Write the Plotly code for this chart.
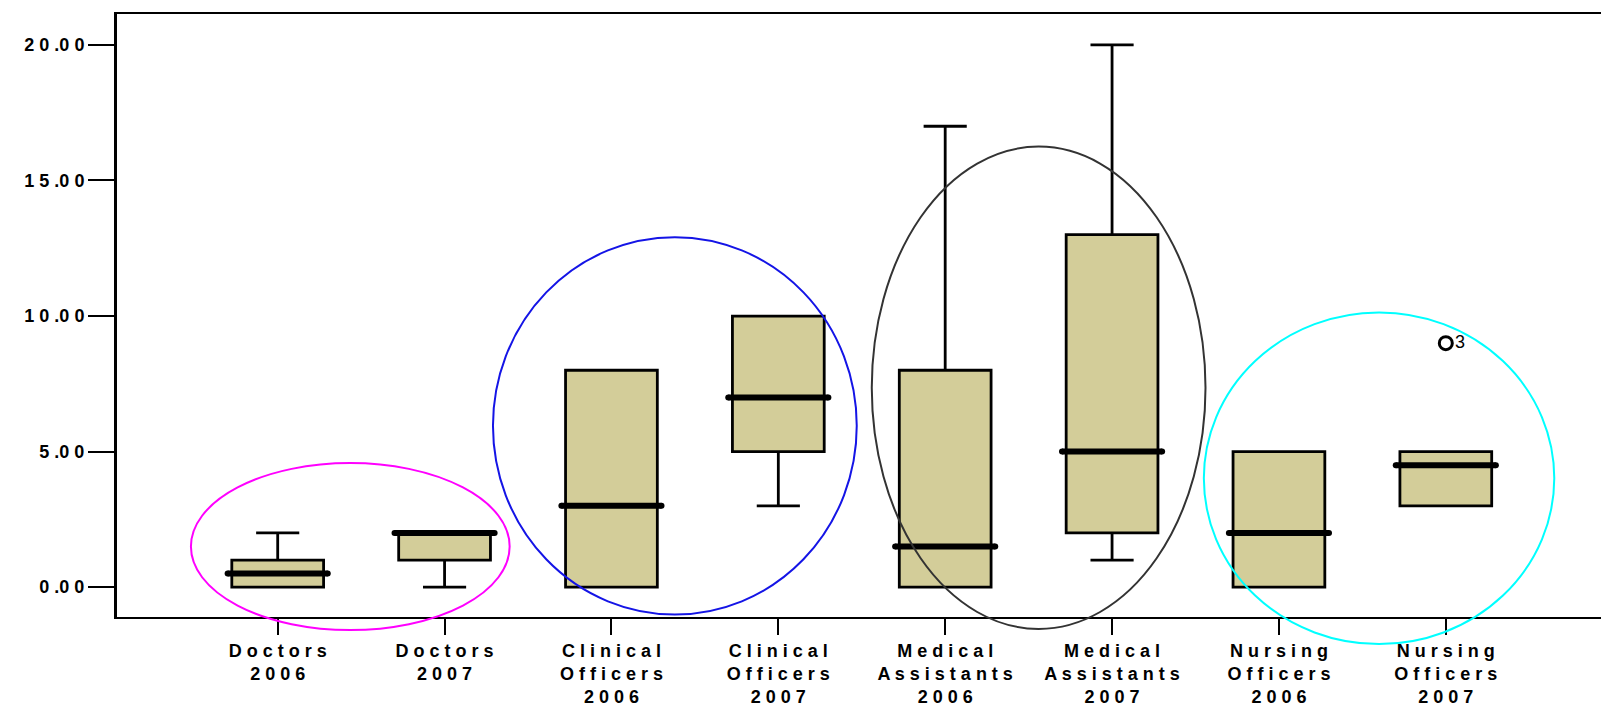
import plotly.graph_objects as go

# Staff group categories (one box per group and year)
categories = [
    "Doctors<br>2006", "Doctors<br>2007",
    "Clinical<br>Officers<br>2006", "Clinical<br>Officers<br>2007",
    "Medical<br>Assistants<br>2006", "Medical<br>Assistants<br>2007",
    "Nursing<br>Officers<br>2006", "Nursing<br>Officers<br>2007",
]

# Five-number summaries per group
lower_whisker = [0, 0, 0, 3, 0, 1, 0, 3]
q1_values     = [0, 1, 0, 5, 0, 2, 0, 3]
median_values = [0.5, 2, 3, 7, 1.5, 5, 2, 4.5]
q3_values     = [1, 2, 8, 10, 8, 13, 5, 5]
upper_whisker = [2, 2, 8, 10, 17, 20, 5, 5]

# Outlier (group index, value, case label)
outlier_group = [7]
outlier_value = [9]
outlier_label = ["3"]

# Y-axis ticks
y_ticks = [0, 5, 10, 15, 20]
y_tick_labels = ["0.00", "5.00", "10.00", "15.00", "20.00"]

# Highlight ellipses around pairs of groups: (x0, x1, y0, y1, colour)
ellipses = [
    (-0.52, 1.39, -1.58, 4.58, "#ff00ff"),
    (1.29, 3.47, -1.01, 12.91, "#1414e6"),
    (3.56, 5.56, -1.54, 16.25, "#333333"),
    (5.55, 7.65, -2.10, 10.13, "#00ffff"),
]

X_RANGE = [-0.963, 7.93]
Y_RANGE = [-1.10, 21.14]


def spaced(text):
    """Letter-space a label, keeping <br> line breaks."""
    return "<br>".join(" ".join(list(part)) for part in text.split("<br>"))


def spaced_number(text):
    """Letter-space a number, keeping the decimals tight to the point."""
    out = ""
    for i, ch in enumerate(text):
        out += ch
        if i < len(text) - 1 and ch != ".":
            out += " "
    return out


def to_paper_x(v):
    return (v - X_RANGE[0]) / (X_RANGE[1] - X_RANGE[0])


def to_paper_y(v):
    return (v - Y_RANGE[0]) / (Y_RANGE[1] - Y_RANGE[0])


positions = list(range(len(categories)))
BOX_WIDTH = 0.55
FILL = "#d3cd99"

fig = go.Figure()

fig.add_trace(go.Box(
    x=positions,
    q1=q1_values,
    median=median_values,
    q3=q3_values,
    lowerfence=lower_whisker,
    upperfence=upper_whisker,
    width=BOX_WIDTH,
    whiskerwidth=0.47,
    fillcolor=FILL,
    line=dict(color="black", width=2.8),
    boxpoints=False,
    showlegend=False,
    hoverinfo="skip",
))

# Heavy median bars with rounded ends drawn over each box
for pos, med in zip(positions, median_values):
    half = BOX_WIDTH / 2 + 0.025
    fig.add_trace(go.Scatter(
        x=[pos - half, pos + half],
        y=[med, med],
        mode="lines+markers",
        line=dict(color="black", width=6),
        marker=dict(symbol="circle", size=6, color="black"),
        showlegend=False,
        hoverinfo="skip",
    ))

# Outlier with its case number
fig.add_trace(go.Scatter(
    x=outlier_group,
    y=outlier_value,
    mode="markers+text",
    marker=dict(symbol="circle-open", size=13, color="black", line=dict(width=3)),
    text=outlier_label,
    textposition="middle right",
    textfont=dict(family="Liberation Sans", size=18, color="black"),
    showlegend=False,
    hoverinfo="skip",
))

for x0, x1, y0, y1, colour in ellipses:
    fig.add_shape(
        type="circle",
        xref="paper", yref="paper",
        x0=to_paper_x(x0), x1=to_paper_x(x1),
        y0=to_paper_y(y0), y1=to_paper_y(y1),
        line=dict(color=colour, width=2),
        fillcolor="rgba(0,0,0,0)",
        layer="above",
    )

fig.update_layout(
    width=1601,
    height=707,
    margin=dict(l=117, r=0, t=14, b=87),
    paper_bgcolor="white",
    plot_bgcolor="white",
    font=dict(family="Liberation Sans", color="black"),
)

fig.update_xaxes(
    range=X_RANGE,
    tickmode="array",
    tickvals=positions,
    ticktext=[spaced(c) for c in categories],
    tickfont=dict(family="Liberation Sans", size=18, color="black", weight="bold"),
    ticks="outside",
    ticklen=16,
    tickwidth=2,
    tickcolor="black",
    showline=True,
    linecolor="black",
    linewidth=2,
    mirror=True,
    showgrid=False,
    zeroline=False,
)

fig.update_yaxes(
    range=Y_RANGE,
    tickmode="array",
    tickvals=y_ticks,
    ticktext=[spaced_number(t) for t in y_tick_labels],
    tickfont=dict(family="Liberation Sans", size=18, color="black", weight="bold"),
    ticks="outside",
    ticklen=26,
    tickwidth=1.5,
    tickcolor="black",
    showline=True,
    linecolor="black",
    linewidth=3,
    showgrid=False,
    zeroline=False,
)

fig.write_html("out.html")
